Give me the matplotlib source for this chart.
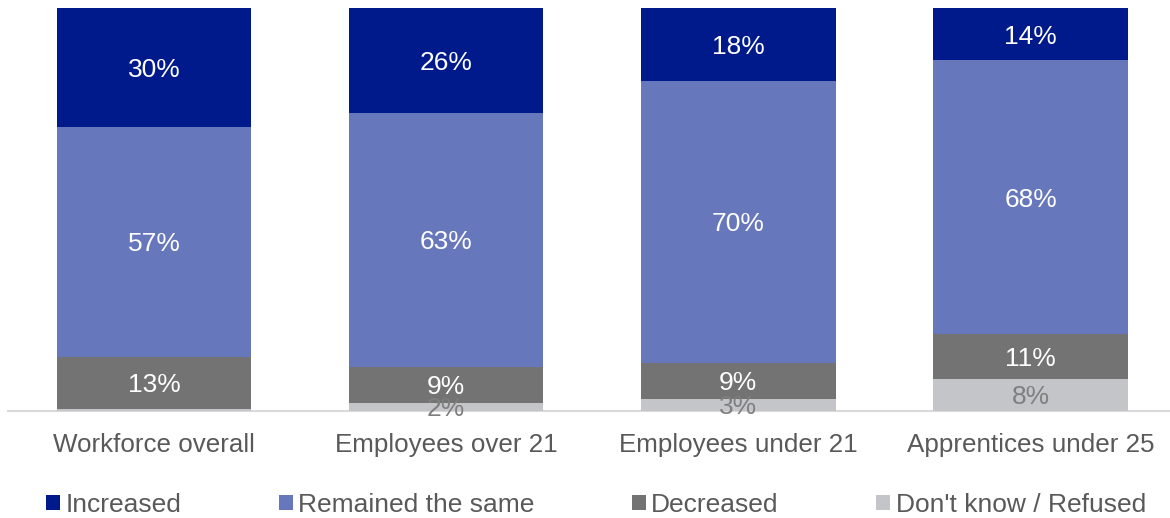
import matplotlib
matplotlib.use("Agg")
import matplotlib.pyplot as plt
import numpy as np

plt.rcParams['font.family'] = ['Liberation Sans', 'DejaVu Sans']

categories = ["Workforce overall", "Employees over 21", "Employees under 21", "Apprentices under 25"]
dont_know = [0.5, 2, 3, 8]
decreased = [13, 9, 9, 11]
remained = [57, 63, 70, 68]
increased = [30, 26, 18, 14]

series = [
    ("Don't know / Refused", dont_know, "#C4C5C9", "#7F7F7F"),
    ("Decreased", decreased, "#737373", "white"),
    ("Remained the same", remained, "#6777BC", "white"),
    ("Increased", increased, "#001A8C", "white"),
]

YMAX = 100

fig = plt.figure(figsize=(11.70, 5.18), dpi=100)
ax = fig.add_axes([8 / 1170, 1 - 411 / 518, 1168.6 / 1170, 403 / 518])

x = np.arange(len(categories))
width = 0.665
bottom = np.zeros(len(categories))
handles = {}
for name, vals, color, tcolor in series:
    vals = np.array(vals, dtype=float)
    bars = ax.bar(x, vals, width, bottom=bottom, color=color, label=name, zorder=2)
    handles[name] = bars
    for xi, b, v in zip(x, bottom, vals):
        if v >= 1:
            # centre the label on the visible part of the segment
            y = (b + min(b + v, YMAX)) / 2
            ax.text(xi, y, f"{v:.0f}%", ha="center", va="center_baseline",
                    color=tcolor, fontsize=19, zorder=3)
    bottom += vals

ax.set_xlim(-0.5, 3.5)
ax.set_ylim(0, YMAX)
ax.set_yticks([])
ax.set_xticks(x)
ax.set_xticklabels(categories, fontsize=18.7, color="#595959")
ax.tick_params(axis="x", length=0, pad=16)
for s in ["top", "right", "left"]:
    ax.spines[s].set_visible(False)
ax.spines["bottom"].set_color("#D9D9D9")
ax.spines["bottom"].set_linewidth(1.5)
ax.spines["bottom"].set_zorder(1)

order = ["Increased", "Remained the same", "Decreased", "Don't know / Refused"]
leg = fig.legend([handles[n] for n in order], order, loc="center",
                 bbox_to_anchor=(596 / 1170, 1 - 505 / 518), ncol=4, frameon=False,
                 fontsize=19, handlelength=0.53, handleheight=0.53, handletextpad=0.2,
                 columnspacing=3.7, borderaxespad=0, borderpad=0)
for t in leg.get_texts():
    t.set_color("#595959")

fig.savefig("out.png", dpi=100)
